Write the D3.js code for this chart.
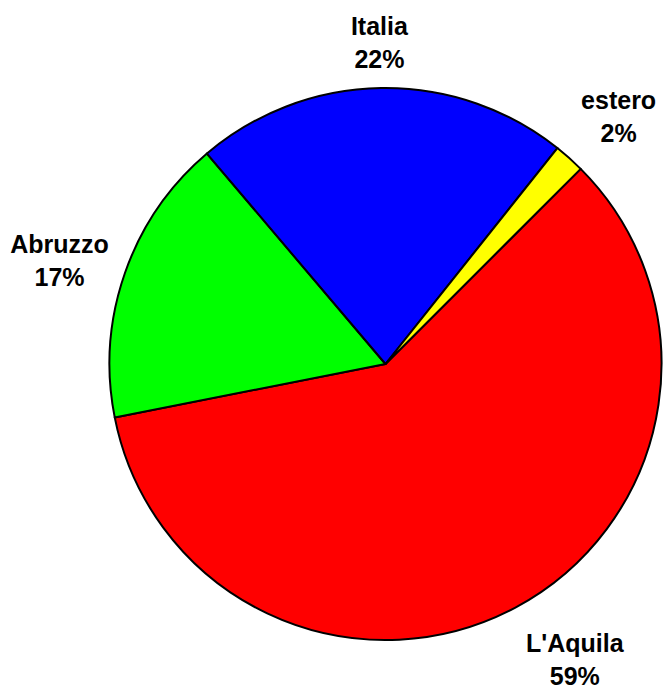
<!DOCTYPE html>
<html>
<head>
<meta charset="utf-8">
<script src="https://cdn.jsdelivr.net/npm/d3@7"></script>
<style>
  html, body { margin: 0; padding: 0; background: #fff; }
  svg { display: block; }
  .lbl { font-family: Arial, "Liberation Sans", sans-serif; font-weight: bold; font-size: 25px; fill: #000; }
</style>
</head>
<body>
<svg id="chart" width="663" height="691"></svg>
<script>
// data, in sheet order (pie starts at 45deg clockwise from 12 o'clock)
const categories = ["L'Aquila", "Abruzzo", "Italia", "estero"];
const values = [59.4, 16.9, 21.9, 1.8];
const colors = ["#ff0000", "#00ff00", "#0000ff", "#ffff00"];

const width = 663, height = 691;
const cx = 385.5, cy = 364, radius = 276;
const startDeg = 45;
const labelGap = 20;
const lineGap = 33;
// small hand nudges so labels sit where Excel put them
const nudge = { "L'Aquila": [27, 13], "estero": [11, -8], "Abruzzo": [0, 3], "Italia": [-1, 0] };

const svg = d3.select('#chart');
const g = svg.append('g').attr('transform', `translate(${cx},${cy})`);

const total = d3.sum(values);
const rows = categories.map((c, i) => ({ name: c, value: values[i], color: colors[i] }));

const start = startDeg * Math.PI / 180;
const pie = d3.pie().sort(null).value(d => d.value)
    .startAngle(start).endAngle(start + 2 * Math.PI);
const arc = d3.arc().innerRadius(0).outerRadius(radius);

const arcs = pie(rows);

g.selectAll('path.slice')
    .data(arcs).enter().append('path')
    .attr('class', 'slice')
    .attr('d', arc)
    .attr('fill', d => d.data.color)
    .attr('stroke', '#000')
    .attr('stroke-width', 2)
    .attr('stroke-linejoin', 'round');

// labels: box edge sits labelGap outside the circle along mid-angle
const label = g.selectAll('text.lbl')
    .data(arcs).enter().append('text')
    .attr('class', 'lbl')
    .attr('text-anchor', 'middle');

label.each(function(d) {
    const t = d3.select(this);
    t.append('tspan').text(d.data.name);
    t.append('tspan').text(Math.round(d.data.value / total * 100) + '%');
    const boxW = Math.max(...t.selectAll('tspan').nodes().map(n => n.getComputedTextLength()));
    const boxH = 17 + lineGap;
    const a = (d.startAngle + d.endAngle) / 2;
    const s = Math.sin(a), c = Math.cos(a);
    const px = (radius + labelGap) * s, py = -(radius + labelGap) * c;
    const n = nudge[d.data.name] || [0, 0];
    const bx = px + (boxW / 2) * s + n[0];
    const by = py - (boxH / 2) * c + n[1];
    t.selectAll('tspan')
        .attr('x', bx)
        .attr('y', (e, i) => by - boxH / 2 + 17 + i * lineGap);
});
</script>
</body>
</html>
